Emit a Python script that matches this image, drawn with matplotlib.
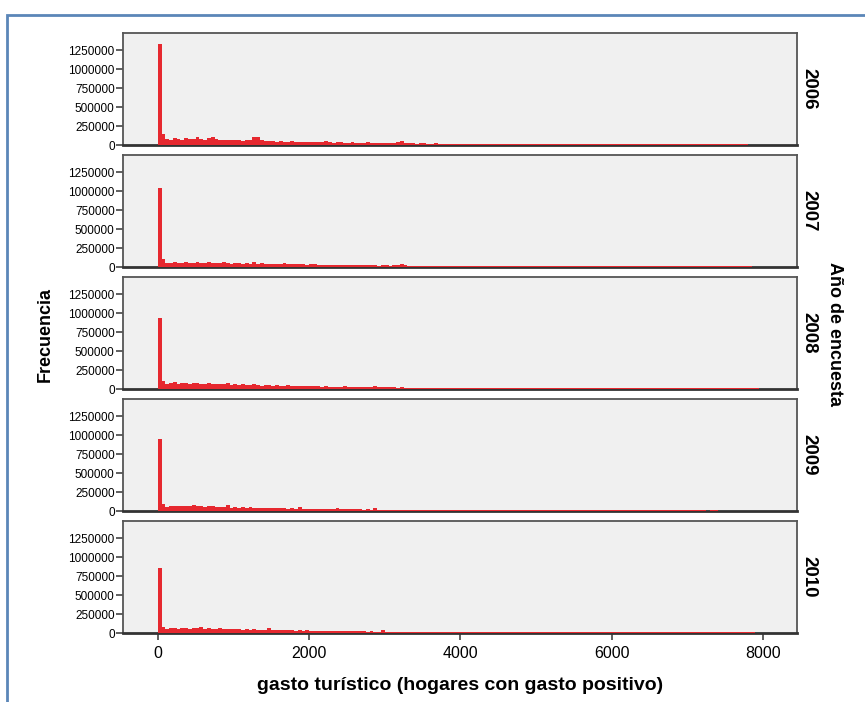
import numpy as np
import matplotlib
matplotlib.use('Agg')
from matplotlib import pyplot as plt
from matplotlib.patches import Rectangle

# frecuencias por intervalo de 50 (en miles), desde 0 hasta 8000
years = ['2006', '2007', '2008', '2009', '2010']
bin_width = 50

freq_2006 = [1340, 140, 80, 70, 95, 75, 70, 90, 80, 75,
             100, 80, 70, 95, 100, 75, 70, 65, 60, 70,
             65, 60, 55, 60, 65, 110, 100, 60, 55, 50,
             50, 45, 55, 45, 40, 50, 45, 40, 45, 40,
             45, 40, 35, 40, 50, 35, 30, 35, 40, 30,
             30, 35, 28, 30, 25, 35, 30, 28, 25, 30,
             25, 22, 28, 45, 55, 25, 20, 22, 18, 20,
             22, 18, 15, 20, 18, 15, 18, 14, 16, 15,
             14, 15, 13, 12, 14, 12, 13, 12, 11, 12,
             13, 11, 10, 11, 12, 10, 11, 10, 11, 10,
             10, 9, 11, 9, 10, 9, 9, 10, 9, 9,
             10, 9, 8, 10, 9, 8, 10, 9, 8, 9,
             9, 8, 9, 10, 8, 9, 8, 9, 8, 9,
             8, 9, 8, 8, 9, 8, 8, 9, 8, 8,
             9, 8, 8, 9, 8, 8, 9, 8, 8, 8,
             8, 8, 9, 8, 8, 8, 0, 0, 0, 0]

freq_2007 = [1040, 100, 55, 50, 60, 55, 50, 60, 55, 50,
             65, 55, 50, 60, 55, 50, 55, 60, 50, 45,
             50, 55, 45, 50, 45, 60, 45, 50, 40, 45,
             40, 45, 40, 50, 38, 35, 40, 35, 38, 30,
             45, 35, 30, 28, 32, 30, 28, 25, 30, 28,
             25, 28, 22, 25, 20, 22, 25, 20, 18, 22,
             20, 18, 20, 22, 40, 20, 16, 18, 15, 16,
             15, 14, 16, 13, 12, 14, 12, 11, 12, 11,
             11, 12, 10, 11, 10, 10, 11, 10, 10, 9,
             10, 9, 10, 9, 10, 9, 9, 10, 9, 9,
             9, 10, 9, 9, 8, 9, 9, 8, 9, 8,
             9, 8, 9, 8, 9, 8, 8, 9, 8, 8,
             8, 9, 8, 8, 8, 9, 8, 8, 9, 8,
             8, 8, 8, 9, 8, 8, 9, 8, 8, 8,
             8, 9, 8, 8, 8, 8, 9, 8, 8, 8,
             8, 8, 8, 8, 8, 8, 8, 0, 0, 0]

freq_2008 = [940, 110, 70, 75, 90, 70, 80, 75, 70, 85,
             75, 70, 65, 80, 70, 65, 70, 60, 75, 55,
             60, 55, 65, 50, 55, 70, 50, 45, 55, 50,
             45, 50, 40, 45, 55, 40, 38, 42, 40, 35,
             38, 35, 40, 32, 35, 30, 33, 30, 28, 35,
             28, 26, 30, 25, 28, 24, 22, 40, 22, 20,
             22, 20, 24, 18, 20, 18, 16, 18, 15, 16,
             14, 15, 13, 14, 12, 13, 12, 12, 11, 12,
             11, 10, 12, 10, 11, 10, 11, 10, 10, 9,
             10, 9, 10, 9, 9, 10, 9, 9, 10, 9,
             9, 8, 9, 9, 8, 9, 9, 8, 9, 9,
             8, 9, 8, 8, 9, 8, 9, 8, 8, 9,
             8, 9, 8, 8, 9, 8, 8, 8, 9, 8,
             8, 8, 8, 9, 8, 8, 8, 9, 8, 8,
             8, 9, 8, 8, 8, 8, 8, 8, 9, 8,
             8, 8, 8, 8, 8, 8, 8, 8, 8, 0]

freq_2009 = [950, 90, 55, 60, 65, 60, 70, 60, 65, 75,
             60, 65, 55, 70, 60, 55, 50, 55, 75, 45,
             50, 45, 55, 45, 50, 40, 45, 40, 42, 38,
             40, 35, 38, 35, 32, 35, 30, 48, 30, 28,
             30, 28, 26, 28, 25, 26, 24, 35, 22, 24,
             22, 20, 22, 20, 18, 20, 18, 42, 18, 16,
             16, 15, 16, 14, 15, 13, 14, 12, 13, 12,
             12, 12, 11, 12, 11, 10, 11, 10, 10, 11,
             10, 10, 9, 10, 9, 10, 9, 9, 10, 9,
             9, 10, 9, 9, 8, 9, 9, 8, 9, 9,
             8, 9, 8, 9, 8, 9, 8, 8, 9, 8,
             8, 9, 8, 8, 9, 8, 8, 8, 9, 8,
             8, 8, 9, 8, 8, 8, 8, 9, 8, 8,
             8, 8, 8, 8, 9, 8, 8, 8, 8, 8,
             8, 8, 8, 8, 8, 0, 8, 8, 0, 0,
             0, 0, 0, 0, 0, 0, 0, 0, 0, 0]

freq_2010 = [855, 80, 55, 60, 65, 55, 70, 60, 55, 65,
             60, 80, 55, 60, 55, 50, 60, 55, 50, 55,
             50, 55, 45, 50, 45, 48, 42, 45, 40, 60,
             40, 38, 42, 35, 38, 35, 32, 35, 30, 45,
             30, 28, 30, 26, 28, 25, 28, 24, 26, 22,
             24, 22, 20, 22, 20, 18, 20, 18, 17, 35,
             18, 16, 17, 15, 16, 14, 15, 13, 14, 12,
             13, 12, 11, 12, 11, 11, 12, 10, 11, 10,
             10, 11, 10, 9, 10, 9, 10, 9, 9, 10,
             9, 9, 10, 9, 9, 14, 9, 8, 9, 9,
             8, 9, 8, 9, 8, 9, 9, 8, 9, 8,
             8, 9, 8, 8, 8, 9, 8, 8, 9, 8,
             8, 9, 8, 8, 8, 9, 8, 8, 8, 8,
             8, 8, 9, 8, 8, 8, 8, 9, 8, 8,
             8, 8, 8, 8, 8, 8, 8, 8, 8, 8,
             8, 8, 8, 8, 8, 8, 8, 8, 0, 0]

all_freqs = [freq_2006, freq_2007, freq_2008, freq_2009, freq_2010]
y_ticks = [0, 250000, 500000, 750000, 1000000, 1250000]
x_ticks = [0, 2000, 4000, 6000, 8000]

sans = ['Liberation Sans', 'DejaVu Sans']

fig = plt.figure(figsize=(8.65, 7.02), dpi=100)
W, H = 865.0, 702.0

# marco azul de la captura
fig.patches.append(Rectangle((7 / W, -0.05), 1.2, 1 - 15 / H + 0.05, transform=fig.transFigure,
                             fill=False, edgecolor='#5b86b8', linewidth=2, zorder=0))

left, right = 123 / W, 797 / W
tops = [33, 155, 277, 399, 521]
panel_h = 112

for i, (year, freq) in enumerate(zip(years, all_freqs)):
    bottom = 1 - (tops[i] + panel_h) / H
    ax = fig.add_axes([left, bottom, right - left, panel_h / H])
    ax.set_facecolor('#f0f0f0')
    heights = np.array(freq) * 1000
    edges = np.arange(len(heights)) * bin_width
    ax.bar(edges, heights, width=bin_width, align='edge', color='#e6282f', linewidth=0, zorder=3)
    ax.set_xlim(-460, 8450)
    ax.set_ylim(0, 1480000)
    ax.set_yticks(y_ticks)
    ax.set_yticklabels([str(v) for v in y_ticks], family=sans, fontsize=8.5)
    ax.tick_params(axis='y', direction='out', length=5, width=1.2, color='#444444', pad=1)
    ax.set_xticks(x_ticks)
    if i < len(years) - 1:
        ax.tick_params(axis='x', length=0, labelbottom=False)
    else:
        ax.set_xticklabels([str(v) for v in x_ticks], family=sans, fontsize=11.5)
        ax.tick_params(axis='x', direction='out', length=5, width=1.2, color='#444444', pad=4)
    for s in ['left', 'right', 'top']:
        ax.spines[s].set_color('#555555')
        ax.spines[s].set_linewidth(1.3)
    ax.spines['bottom'].set_color('#333333')
    ax.spines['bottom'].set_linewidth(2)
    ax.text(1.018, 0.5, year, transform=ax.transAxes, rotation=-90, ha='center', va='center',
            fontsize=13.5, fontweight='bold', family=sans)

fig.text(45 / W, 1 - 334 / H, 'Frecuencia', rotation=90, ha='center', va='center',
         fontsize=13, fontweight='bold', family=sans)
fig.text(834 / W, 1 - 334 / H, 'Año de encuesta', rotation=-90, ha='center', va='center',
         fontsize=13, fontweight='bold', family=sans)
fig.text(460 / W, 1 - 685 / H, 'gasto turístico (hogares con gasto positivo)', ha='center', va='center',
         fontsize=14, fontweight='bold', family=sans)

plt.savefig('out.png', dpi=100)
plt.close()
